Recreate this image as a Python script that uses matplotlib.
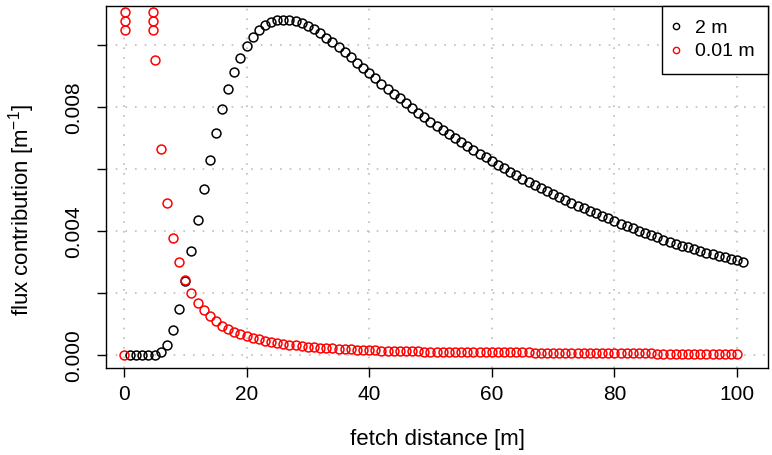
import numpy as np
import matplotlib
matplotlib.use("Agg")
import matplotlib.pyplot as plt
from matplotlib.lines import Line2D

# Footprint flux contribution vs fetch distance, two measurement heights

# -----------------------------------------
# Data
# -----------------------------------------

# 2 m series, fetch 1..101 m
x_2m = np.arange(1, 102)
flux_2m = [
    0.0, 0.0, 0.0, 0.0, 0.00002, 0.00011, 0.00033, 0.00080, 0.00150, 0.00240,
    0.00336, 0.00437, 0.00536, 0.00630, 0.00716, 0.00793, 0.00858, 0.00914, 0.00959, 0.00998,
    0.01027, 0.01048, 0.01065, 0.01074, 0.01081, 0.01083, 0.01082, 0.01078, 0.01071, 0.01062,
    0.01051, 0.01039, 0.01025, 0.01010, 0.00994, 0.00978, 0.00961, 0.00944, 0.00927, 0.00910,
    0.00893, 0.00876, 0.00860, 0.00844, 0.00829, 0.00814, 0.00798, 0.00783, 0.00768, 0.00754,
    0.00740, 0.00727, 0.00714, 0.00701, 0.00688, 0.00675, 0.00662, 0.00650, 0.00638, 0.00626,
    0.00614, 0.00603, 0.00592, 0.00581, 0.00570, 0.00559, 0.00549, 0.00539, 0.00529, 0.00519,
    0.00510, 0.00501, 0.00492, 0.00483, 0.00474, 0.00466, 0.00458, 0.00450, 0.00442, 0.00433,
    0.00425, 0.00417, 0.00409, 0.00401, 0.00394, 0.00387, 0.00380, 0.00373, 0.00366, 0.00360,
    0.00354, 0.00348, 0.00342, 0.00336, 0.00331, 0.00326, 0.00321, 0.00316, 0.00311, 0.00306,
    0.00301,
]

# 0.01 m series: x=0, then 5..100 (1..4 are far above the axis)
x_001 = [0] + list(range(5, 101))
flux_001 = [
    0.0,
    0.00952, 0.00666, 0.00492, 0.00378, 0.00300, 0.00242, 0.00201, 0.00170, 0.00146, 0.00126,
    0.00109, 0.00096, 0.00085, 0.00076, 0.00068, 0.00062, 0.00056, 0.00051, 0.00047, 0.00043,
    0.00040, 0.00037, 0.00034, 0.00032, 0.00030, 0.00028, 0.00026, 0.00025, 0.00023, 0.00022,
    0.00021, 0.00020, 0.00019, 0.00018, 0.00017, 0.00016, 0.00016, 0.00015, 0.00015, 0.00014,
    0.00014, 0.00013, 0.00013, 0.00013, 0.00012, 0.00012, 0.00012, 0.00011, 0.00011, 0.00011,
    0.00011, 0.00010, 0.00010, 0.00010, 0.00010, 0.00010, 0.00009, 0.00009, 0.00009, 0.00009,
    0.00009, 0.00009, 0.00008, 0.00008, 0.00008, 0.00008, 0.00008, 0.00008, 0.00007, 0.00007,
    0.00007, 0.00007, 0.00007, 0.00007, 0.00007, 0.00006, 0.00006, 0.00006, 0.00006, 0.00006,
    0.00006, 0.00006, 0.00005, 0.00005, 0.00005, 0.00005, 0.00005, 0.00005, 0.00005, 0.00005,
    0.00004, 0.00004, 0.00004, 0.00004, 0.00004, 0.00004,
]

# extra 0.01 m points near the top edge
x_001_top = [0.2, 0.2, 0.2, 4.8, 4.8, 4.8]
flux_001_top = [0.01108, 0.01079, 0.01049, 0.01108, 0.01079, 0.01049]

x_ticks = [0, 20, 40, 60, 80, 100]
y_ticks = [0.000, 0.002, 0.004, 0.006, 0.008, 0.010]
y_tick_labels = ["0.000", "", "0.004", "", "0.008", ""]
legend_labels = ["2 m", "0.01 m"]

# -----------------------------------------
# Figure
# -----------------------------------------

plt.rcParams['font.family'] = ['Liberation Sans', 'DejaVu Sans']
plt.rcParams['mathtext.fontset'] = 'custom'
plt.rcParams['mathtext.rm'] = 'Liberation Sans'
plt.rcParams['mathtext.it'] = 'Liberation Sans'
plt.rcParams['mathtext.default'] = 'regular'

fig = plt.figure(figsize=(7.72, 4.55), dpi=100)
ax = fig.add_axes([0.1373, 0.1919, 0.9948 - 0.1373, 0.9875 - 0.1919])

tick_size = 15
label_size = 16

grid_style = dict(color='#bdbdbd', lw=1.2, ls=(0, (1, 4.8)), zorder=0)
for xv in x_ticks:
    ax.axvline(xv, **grid_style)
for yv in y_ticks:
    ax.axhline(yv, **grid_style)

mk = dict(marker='o', ls='none', mfc='none', ms=6.4, mew=1.1)
ax.plot(x_2m, flux_2m, mec='black', **mk)
ax.plot(x_001, flux_001, mec='red', **mk)
ax.plot(x_001_top, flux_001_top, mec='red', **mk)

ax.set_xlim(-2.93, 105.05)
ax.set_ylim(-0.0004, 0.011277)
ax.set_xticks(x_ticks)
ax.set_xticklabels([str(v) for v in x_ticks], fontsize=tick_size)
ax.set_yticks(y_ticks)
ax.set_yticklabels(y_tick_labels, fontsize=tick_size, rotation=90, va='center')
ax.tick_params(direction='out', length=6.5, width=1.0, colors='black')
ax.tick_params(axis='x', pad=6)
ax.tick_params(axis='y', pad=10)

for s in ax.spines.values():
    s.set_linewidth(1.0)

# axis titles, placed like R's mtext
fig.text(437 / 772, 1 - 439 / 455, 'fetch distance [m]', fontsize=label_size,
         ha='center', va='center')
fig.text(22 / 772, 1 - 210 / 455, 'flux contribution [m$^{-1}$]', fontsize=label_size,
         ha='center', va='center', rotation=90)

handles = [Line2D([], [], marker='o', ls='none', mfc='none', mec=c, ms=4.5, mew=1.0)
           for c in ['black', 'red']]
leg = ax.legend(handles, legend_labels, loc='upper right', fontsize=14,
                frameon=True, fancybox=False, borderaxespad=0, handlelength=0.05,
                handletextpad=0.95, borderpad=0.7, labelspacing=0.3)
leg.get_frame().set_edgecolor('black')
leg.get_frame().set_linewidth(1.0)
leg.get_frame().set_alpha(1.0)

fig.savefig('out.png', dpi=100)
